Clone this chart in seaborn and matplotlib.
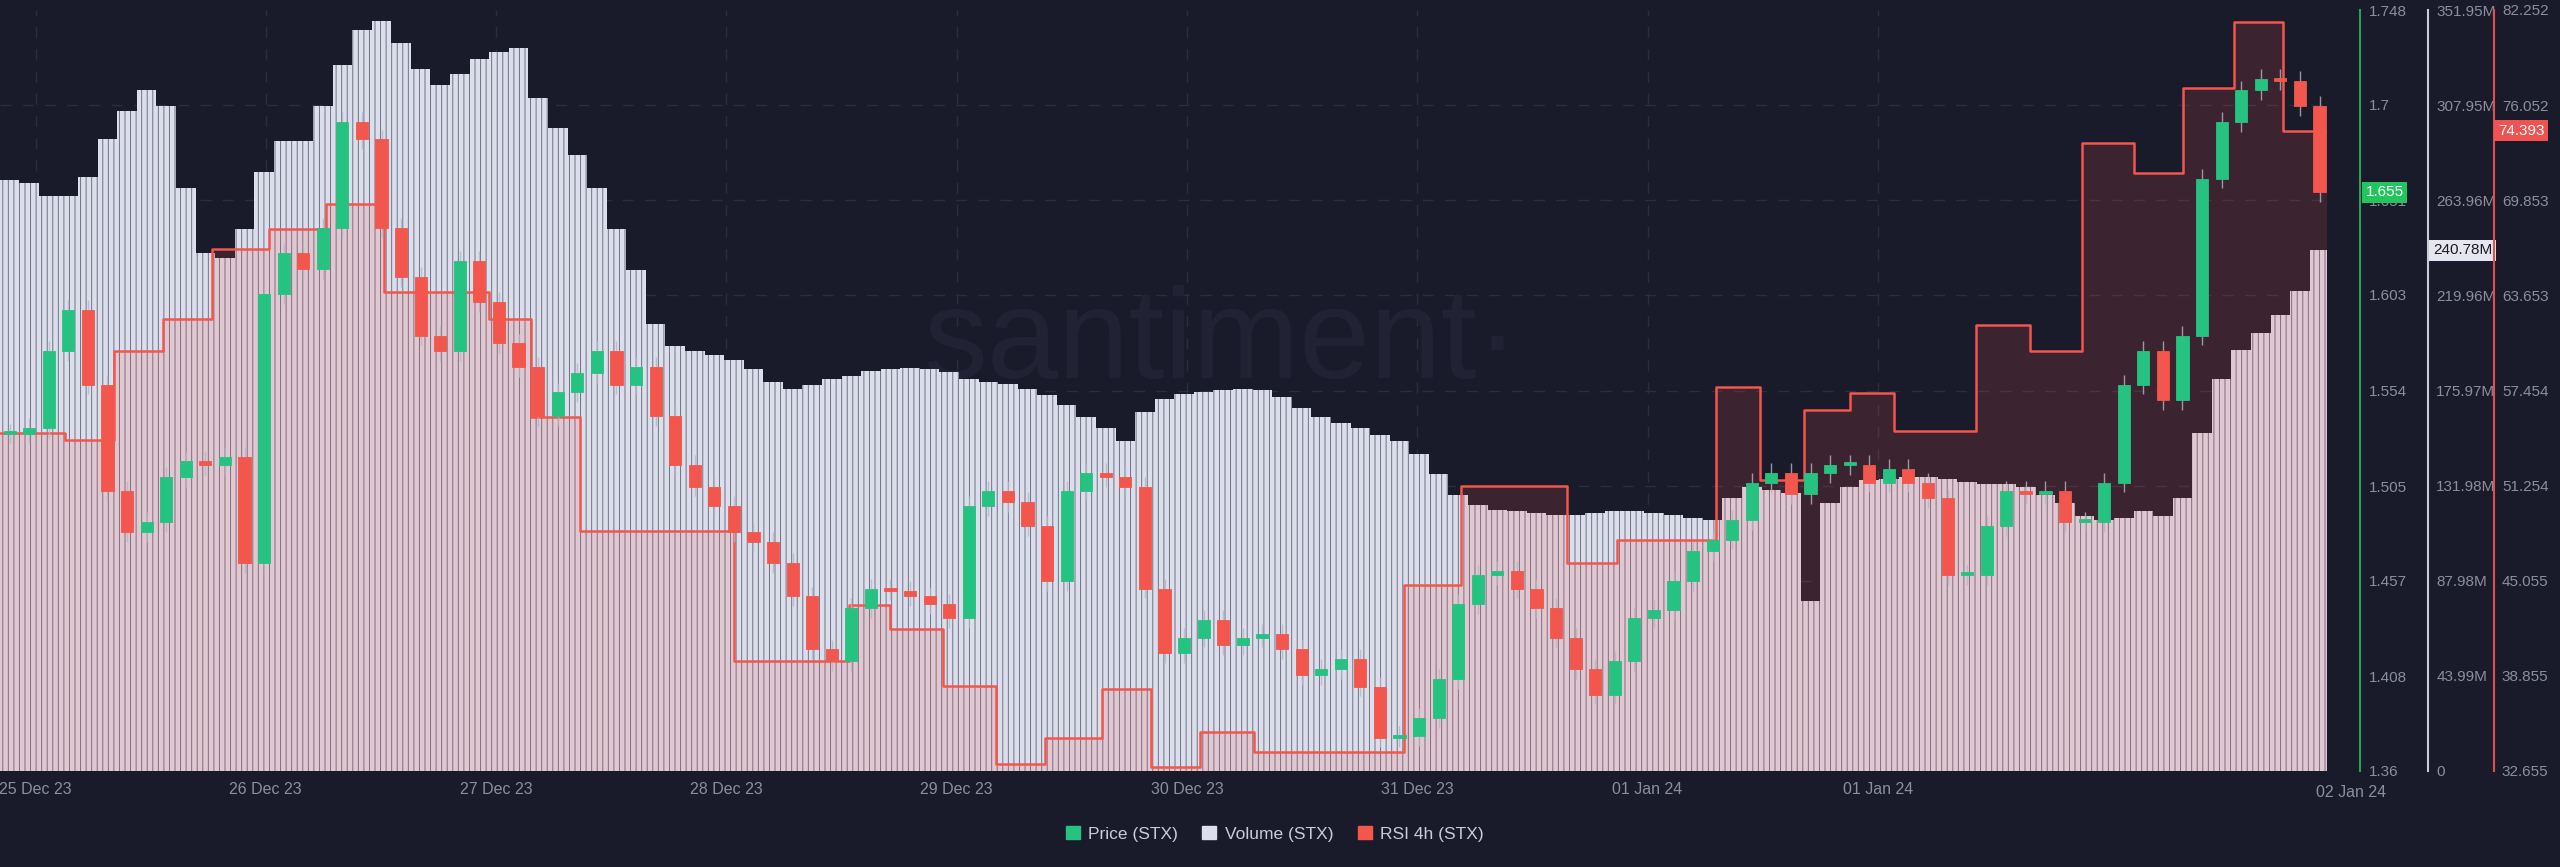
import numpy as np
import matplotlib
matplotlib.use("Agg")
import matplotlib.pyplot as plt
from matplotlib.patches import Patch
from matplotlib.transforms import blended_transform_factory
import seaborn as sns

# ---------------- data ----------------
date_labels = ["25 Dec 23", "26 Dec 23", "27 Dec 23", "28 Dec 23", "29 Dec 23",
               "30 Dec 23", "31 Dec 23", "01 Jan 24", "01 Jan 24"]
last_label = "02 Jan 24"

close_price = [1.532, 1.535, 1.574, 1.595, 1.557, 1.503, 1.482, 1.487, 1.510, 1.518,
               1.516, 1.520, 1.466, 1.603, 1.624, 1.616, 1.637, 1.691, 1.682, 1.637,
               1.612, 1.582, 1.574, 1.620, 1.599, 1.578, 1.566, 1.541, 1.553, 1.563,
               1.574, 1.557, 1.566, 1.541, 1.516, 1.505, 1.495, 1.482, 1.477, 1.466,
               1.449, 1.422, 1.416, 1.443, 1.453, 1.452, 1.449, 1.445, 1.438, 1.495,
               1.503, 1.497, 1.485, 1.457, 1.503, 1.512, 1.510, 1.505, 1.453, 1.420,
               1.428, 1.437, 1.424, 1.428, 1.430, 1.422, 1.409, 1.412, 1.417, 1.403,
               1.377, 1.378, 1.387, 1.407, 1.445, 1.460, 1.462, 1.453, 1.443, 1.428,
               1.412, 1.399, 1.416, 1.438, 1.442, 1.457, 1.472, 1.478, 1.488, 1.507,
               1.512, 1.501, 1.512, 1.516, 1.516, 1.507, 1.514, 1.507, 1.499, 1.460,
               1.460, 1.485, 1.503, 1.501, 1.503, 1.487, 1.487, 1.507, 1.557, 1.574,
               1.549, 1.582, 1.662, 1.691, 1.707, 1.713, 1.712, 1.699, 1.655]

volume_m = [273.4, 271.9, 265.9, 265.9, 274.9, 292.3, 305.1, 315.0, 307.4, 269.6,
            239.4, 237.2, 250.8, 277.2, 291.5, 291.5, 307.4, 326.3, 342.9, 346.7,
            336.9, 324.8, 317.2, 322.5, 329.3, 332.3, 334.6, 311.2, 297.6, 284.7,
            269.6, 250.8, 231.9, 206.9, 196.4, 194.1, 192.6, 190.3, 185.8, 179.8,
            176.7, 178.3, 181.3, 182.8, 185.0, 185.8, 186.6, 185.8, 184.3, 181.3,
            179.8, 179.0, 176.7, 173.7, 169.2, 163.9, 158.6, 152.6, 166.2, 172.2,
            174.5, 175.2, 176.0, 176.7, 176.0, 173.0, 167.7, 163.9, 160.9, 158.6,
            155.6, 152.6, 146.5, 137.5, 127.6, 123.1, 120.8, 120.1, 119.3, 118.6,
            118.6, 119.3, 120.1, 120.1, 119.3, 118.6, 117.1, 116.3, 126.1, 131.4,
            129.9, 128.4, 78.6, 123.9, 131.4, 134.4, 135.2, 136.0, 136.0, 135.2,
            133.7, 132.9, 132.9, 131.4, 127.6, 123.9, 117.8, 116.3, 117.1, 120.1,
            117.8, 126.1, 156.3, 181.3, 194.9, 202.4, 210.7, 222.1, 240.78]

rsi_start_h = [-3.7, 3.1, 8.2, 13.3, 18.4, 24.3, 30.3, 36.3, 47.3, 51.6, 56.7, 72.8,
               84.8, 89.0, 94.6, 100.1, 105.2, 111.1, 116.2, 121.4, 127.0, 142.6,
               148.6, 159.6, 164.8, 175.1, 179.7, 184.3, 189.1, 193.7, 202.2, 207.8,
               213.3, 218.7, 223.8, 229.1, 234.2, 238.8]
rsi_value = [54.7, 54.2, 60.0, 62.1, 66.7, 68.0, 69.6, 63.9, 62.1, 55.7, 48.3, 39.8,
             43.5, 41.9, 38.2, 33.1, 34.8, 38.0, 32.9, 35.2, 33.9, 44.8, 51.2, 46.2,
             47.7, 57.7, 51.6, 56.2, 57.3, 54.8, 61.7, 60.0, 73.6, 71.6, 77.2, 81.5,
             74.393, 74.393]

price_ticks = [1.36, 1.408, 1.457, 1.505, 1.554, 1.603, 1.651, 1.7, 1.748]
price_labels = ["1.36", "1.408", "1.457", "1.505", "1.554", "1.603", "1.651", "1.7", "1.748"]
vol_ticks = [0, 43.99, 87.98, 131.98, 175.97, 219.96, 263.96, 307.95, 351.95]
vol_labels = ["0", "43.99M", "87.98M", "131.98M", "175.97M", "219.96M", "263.96M", "307.95M", "351.95M"]
rsi_ticks = [32.655, 38.855, 45.055, 51.254, 57.454, 63.653, 69.853, 76.052, 82.252]
rsi_labels = ["32.655", "38.855", "45.055", "51.254", "57.454", "63.653", "69.853", "76.052", "82.252"]

# ---------------- style ----------------
BG = "#191b2a"
GREEN = "#26c281"
RED = "#f2564d"
VOLC = "#dcdfeb"
STRIPE = "#6e7183"
GRID = "#2a2d3e"
TXT = "#8b8e9f"
FS = 11

sns.set_theme(style="dark")
plt.rcParams["font.family"] = ["Liberation Sans", "DejaVu Sans"]
plt.rcParams["hatch.linewidth"] = 0.7

PERIOD_H = 2.04
START_H = -2.7
t = START_H + PERIOD_H * np.arange(len(close_price))

fig = plt.figure(figsize=(25.6, 8.67), dpi=100, facecolor=BG)
ax = fig.add_axes([0.0, 96 / 867, 2327 / 2560, 761 / 867])
ax.set_facecolor(BG)
ax_rsi = ax.twinx()
ax_p = ax.twinx()

# grid (behind volume bars)
for y in vol_ticks[1:-1]:
    ax.axhline(y, color=GRID, linestyle=(0, (8, 8)), linewidth=1, zorder=0)
for d in range(len(date_labels)):
    ax.axvline(24 * d, color=GRID, linestyle=(0, (8, 8)), linewidth=1, zorder=0)

# volume
ax.bar(t, volume_m, width=PERIOD_H, color=VOLC, edgecolor=STRIPE, linewidth=0,
       hatch="|||", zorder=2)
ax.set_ylim(0, 351.95)
ax.set_xlim(-3.7, 238.8)

# RSI
rs_t = np.array(rsi_start_h)
ax_rsi.fill_between(rs_t, 32.655, rsi_value, step="post", color=RED, alpha=0.16,
                    linewidth=0, zorder=1)
sns.lineplot(x=rs_t, y=rsi_value, ax=ax_rsi, color=RED, linewidth=1.8,
             drawstyle="steps-post", zorder=3)
ax_rsi.set_ylim(32.655, 82.252)

# candles
opens = np.array([close_price[0]] + close_price[:-1])
closes = np.array(close_price)
up = closes >= opens
cols = np.where(up, GREEN, RED)
lo = np.minimum(opens, closes)
hi = np.maximum(opens, closes)
pad = 0.005
ax_p.vlines(t, lo - pad, hi + pad, color="#b4b6c4", linewidth=1.0, alpha=0.8, zorder=3)
ax_p.bar(t, np.maximum(hi - lo, 0.0015), bottom=lo, width=PERIOD_H * 0.62,
         color=cols, edgecolor=cols, linewidth=0.6, zorder=4)
ax_p.set_ylim(1.36, 1.748)

# x axis
ax.set_xticks([24 * d for d in range(len(date_labels))])
ax.set_xticklabels(date_labels, color=TXT, fontsize=FS + 0.5)
ax.tick_params(axis="x", length=0, pad=8)
ax.text(241.3, -0.018, last_label, transform=blended_transform_factory(ax.transData, ax.transAxes),
        ha="center", va="top", color=TXT, fontsize=FS + 0.5, clip_on=False)

# spines / y axes
for a in (ax, ax_rsi, ax_p):
    for s in ("left", "top", "bottom"):
        a.spines[s].set_visible(False)
    a.grid(False)

ax.yaxis.tick_right()
ax.spines["right"].set_position(("axes", 1.0434))
ax.spines["right"].set_color("#c9cbd8")
ax.spines["right"].set_linewidth(1.5)
ax.set_yticks(vol_ticks)
ax.set_yticklabels(vol_labels, color=TXT, fontsize=FS)

ax_p.spines["right"].set_position(("axes", 1.0142))
ax_p.spines["right"].set_color("#27a05a")
ax_p.spines["right"].set_linewidth(1.5)
ax_p.set_yticks(price_ticks)
ax_p.set_yticklabels(price_labels, color=TXT, fontsize=FS)

ax_rsi.spines["right"].set_position(("axes", 1.0716))
ax_rsi.spines["right"].set_color("#e0504b")
ax_rsi.spines["right"].set_linewidth(1.5)
ax_rsi.set_yticks(rsi_ticks)
ax_rsi.set_yticklabels(rsi_labels, color=TXT, fontsize=FS)
for a in (ax, ax_rsi, ax_p):
    a.tick_params(axis="y", length=0, pad=6)
    a.set_ylabel("")
ax.set_xlabel("")

# badges
def badge(a, xpos, y, text, fc, tc):
    a.text(xpos, y, text, transform=blended_transform_factory(a.transAxes, a.transData),
           ha="left", va="center", fontsize=FS, color=tc, clip_on=False, zorder=10,
           bbox=dict(boxstyle="square,pad=0.25", fc=fc, ec="none"))

badge(ax_p, 1.0165, close_price[-1], "1.655", "#22c55e", "white")
badge(ax, 1.0455, volume_m[-1], "240.78M", "#e6e7ee", "#1a1b2b")
badge(ax_rsi, 1.0735, rsi_value[-1], "74.393", "#f05252", "white")

# watermark
ax.text(0.525, 0.56, "santiment·", transform=ax.transAxes, ha="center", va="center",
        fontsize=92, color="#212335", zorder=1.5)

# legend
handles = [Patch(color=GREEN), Patch(color=VOLC), Patch(color=RED)]
fig.legend(handles, ["Price (STX)", "Volume (STX)", "RSI 4h (STX)"], loc="center",
           bbox_to_anchor=(0.498, 0.038), ncol=3, frameon=False, fontsize=12.5,
           labelcolor="#c9cbd6", handlelength=0.8, handleheight=0.8, handletextpad=0.5,
           columnspacing=1.4)

fig.savefig("out.png", dpi=100, facecolor=BG)
